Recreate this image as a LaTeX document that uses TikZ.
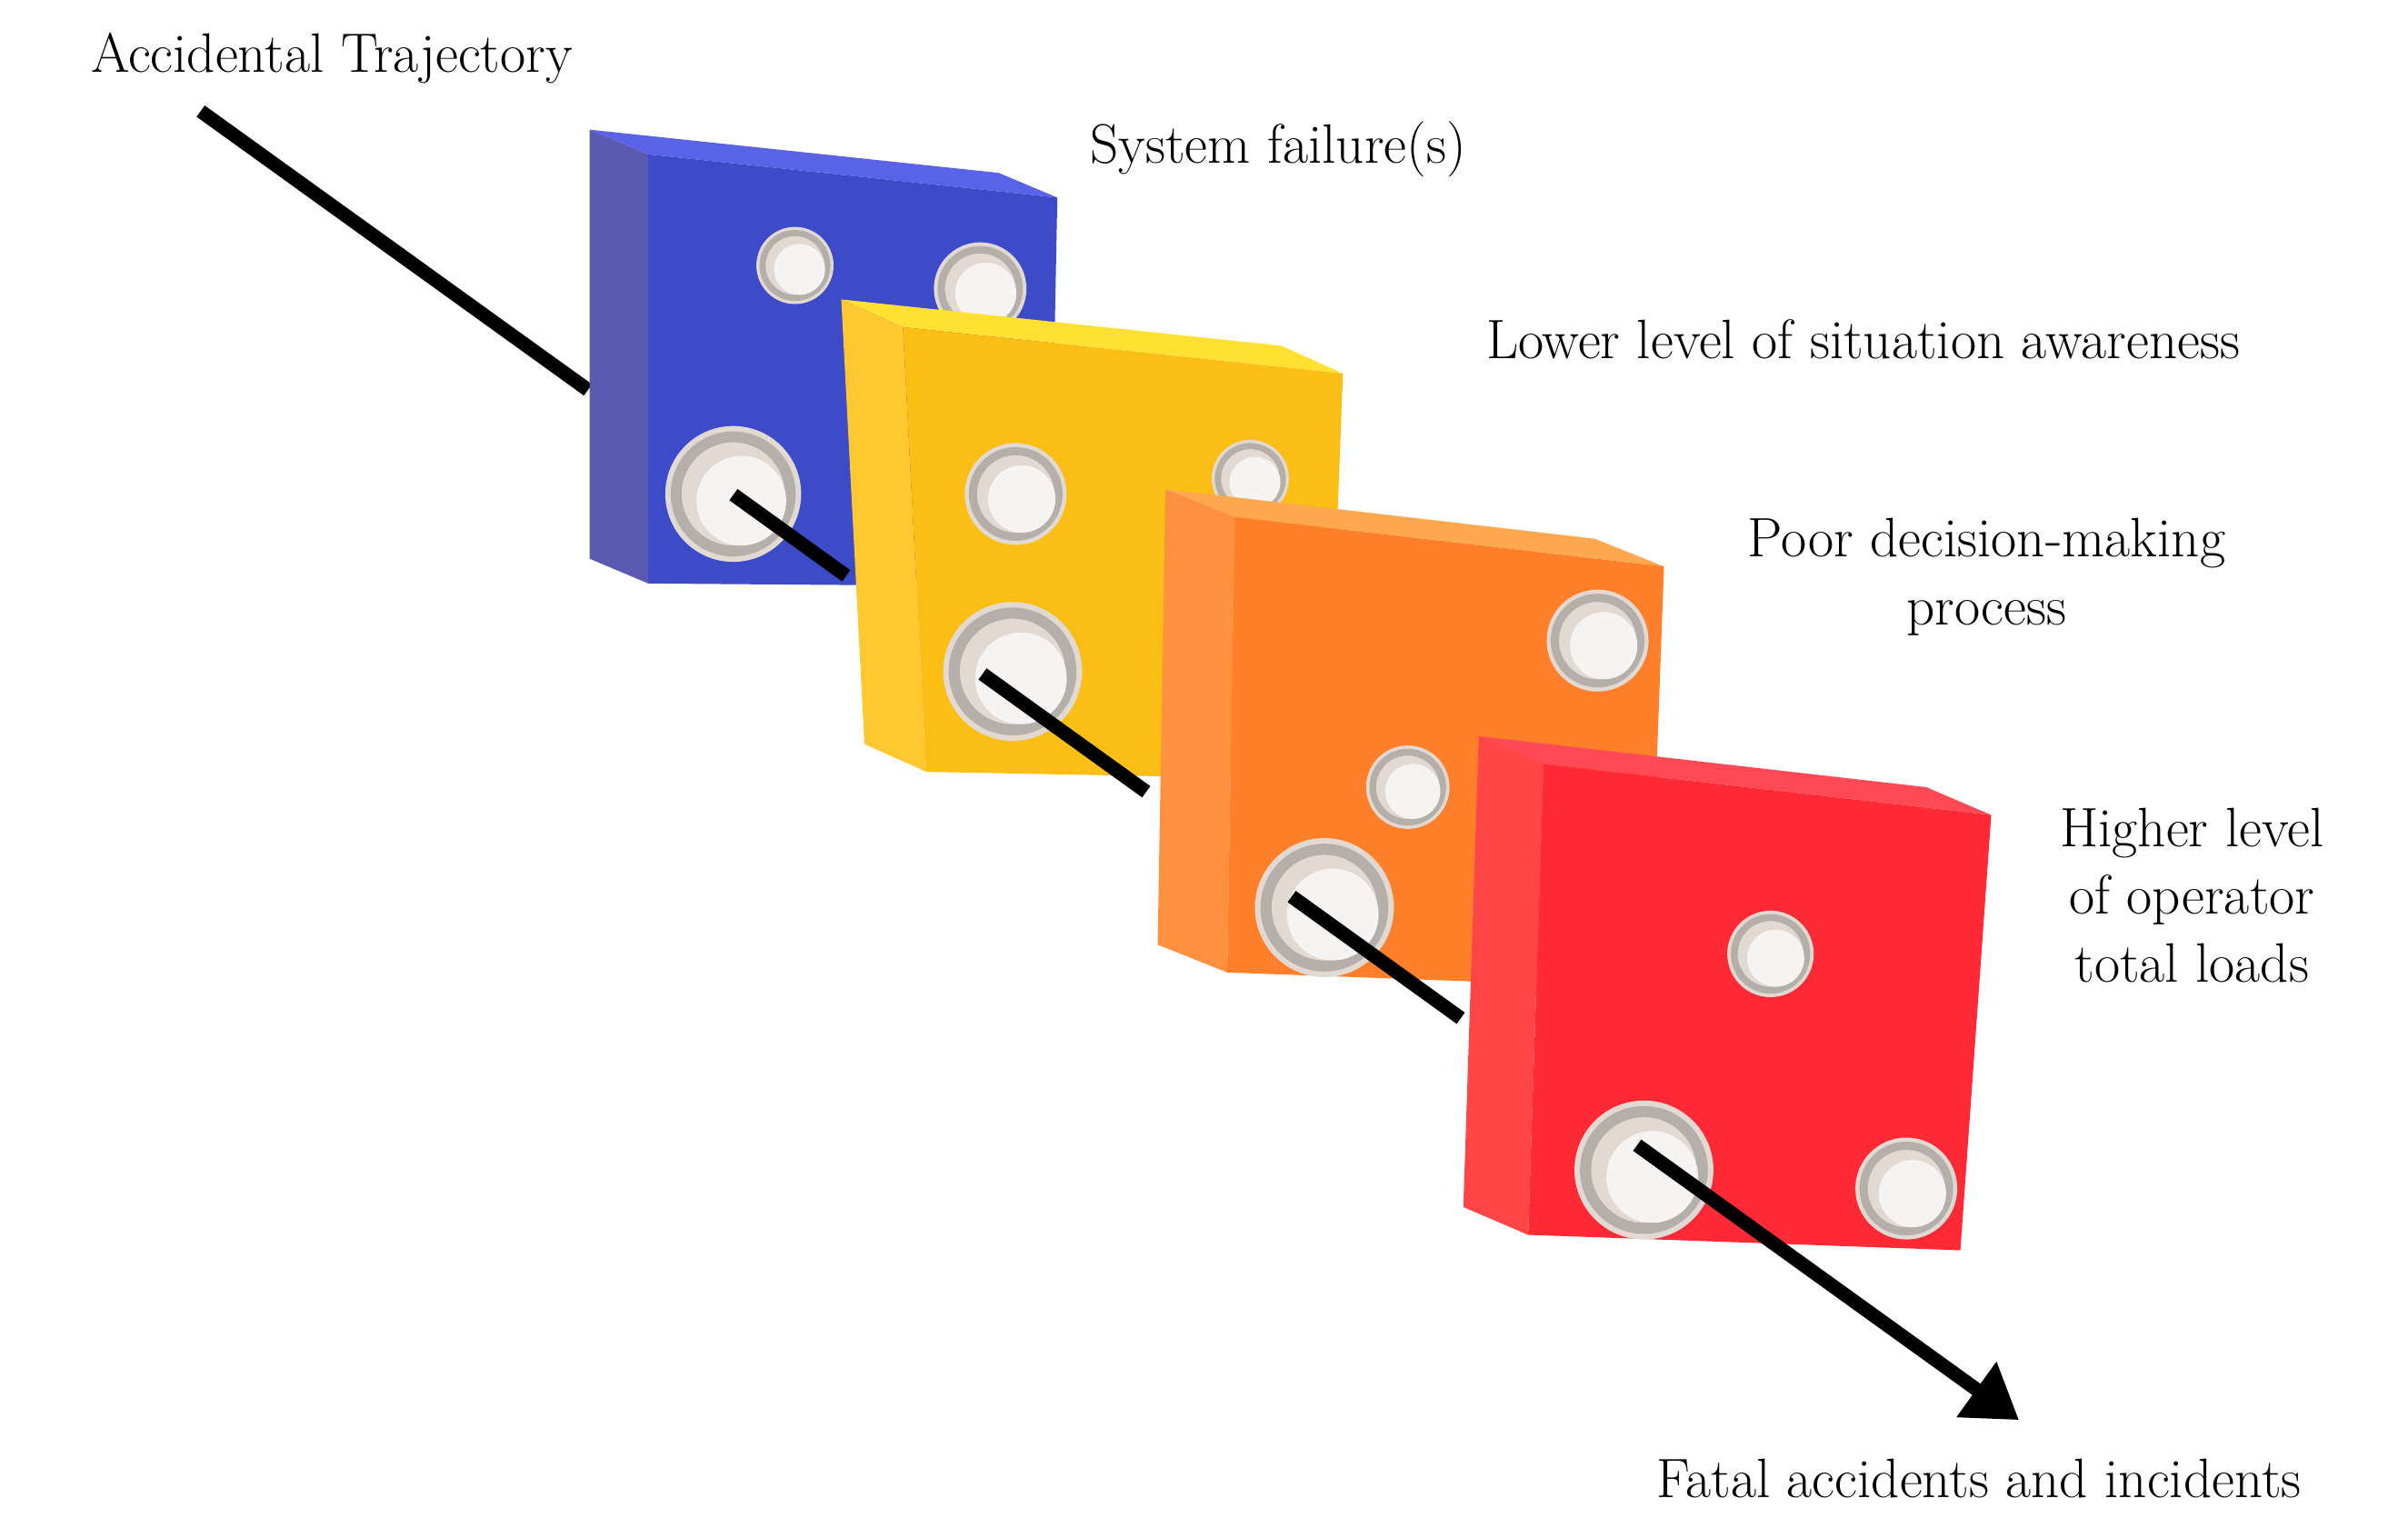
\documentclass[tikz,border=0pt]{standalone}
\usetikzlibrary{arrows.meta}
\definecolor{bF}{HTML}{3D4BC8}\definecolor{bT}{HTML}{5A63E8}\definecolor{bS}{HTML}{5A5AB0}
\definecolor{yF}{HTML}{FBBE14}\definecolor{yT}{HTML}{FFE033}\definecolor{yS}{HTML}{FFC830}
\definecolor{oF}{HTML}{FF7F2A}\definecolor{oT}{HTML}{FFA850}\definecolor{oS}{HTML}{FF9040}
\definecolor{rF}{HTML}{FF2A35}\definecolor{rT}{HTML}{FF4A55}\definecolor{rS}{HTML}{FF4545}
\definecolor{ring}{HTML}{B5AFAA}\definecolor{cyl}{HTML}{E2DAD2}\definecolor{inner}{HTML}{F6F4F2}
\tikzset{traj/.style={line width=9pt,black},
 lbl/.style={font=\fontsize{36}{44}\selectfont,align=center}}
\newcommand{\mybox}[8]{% TL TR BR BL front top side
 \fill[#6] (#1) -- (#2) -- ($(#2)+(#8)$) -- ($(#1)+(#8)$) -- cycle;
 \fill[#7] (#1) -- (#4) -- ($(#4)+(#8)$) -- ($(#1)+(#8)$) -- cycle;
 \fill[#5] (#1) -- (#2) -- (#3) -- (#4) -- cycle;}
\newcommand{\hole}[2]{% center radius
 \fill[cyl] (#1) circle (#2);
 \draw[ring,line width=0.16*#2] (#1) circle (0.84*#2);
 \fill[inner] ($(#1)+(0.12*#2,0.1*#2)$) circle (0.66*#2);}
\usetikzlibrary{calc}
\begin{document}
\begin{tikzpicture}[x=1pt,y=-1pt]
\useasboundingbox (0,0) rectangle (1560,983);
\coordinate (S) at (130,72);
\coordinate (E) at (1308,920);
% segment 1
\draw[traj] (S) -- ($(S)!0.213!(E)$);
% blue
\mybox{420,100}{685,128}{680,380}{420,378}{bF}{bT}{bS}{-38,-16}
\hole{515,172}{25}\hole{635,187}{30}\hole{475,320}{44}
\draw[traj] ($(S)!0.293!(E)$) -- ($(S)!0.355!(E)$);
% yellow
\mybox{585,212}{870,242}{860,505}{600,500}{yF}{yT}{yS}{-40,-18}
\hole{658,320}{33}\hole{810,310}{25}\hole{656,435}{45}
\draw[traj] ($(S)!0.43!(E)$) -- ($(S)!0.52!(E)$);
% orange
\mybox{800,335}{1078,367}{1068,640}{795,630}{oF}{oT}{oS}{-45,-18}
\hole{1035,415}{33}\hole{912,510}{27}\hole{858,588}{45}
\draw[traj] ($(S)!0.6!(E)$) -- ($(S)!0.693!(E)$);
% red
\mybox{1000,495}{1290,528}{1270,810}{990,800}{rF}{rT}{rS}{-42,-18}
\hole{1147,618}{28}\hole{1235,770}{33}\hole{1065,758}{45}
\draw[traj,-{Triangle[length=34pt,width=42pt]}] ($(S)!0.79!(E)$) -- (E);
% labels
\node[lbl] (t0) at (215,38) {Accidental Trajectory};
\node[lbl] (t1) at (828,97) {System failure(s)};
\node[lbl] (t2) at (1207,220) {Lower level of situation awareness};
\node[lbl,align=center] (t3) at (1287,374) {Poor decision-making\\process};
\node[lbl] (t4) at (1420,580) {Higher level\\of operator\\total loads};
\node[lbl] (t5) at (1282,958) {Fatal accidents and incidents};
\end{tikzpicture}
\end{document}
